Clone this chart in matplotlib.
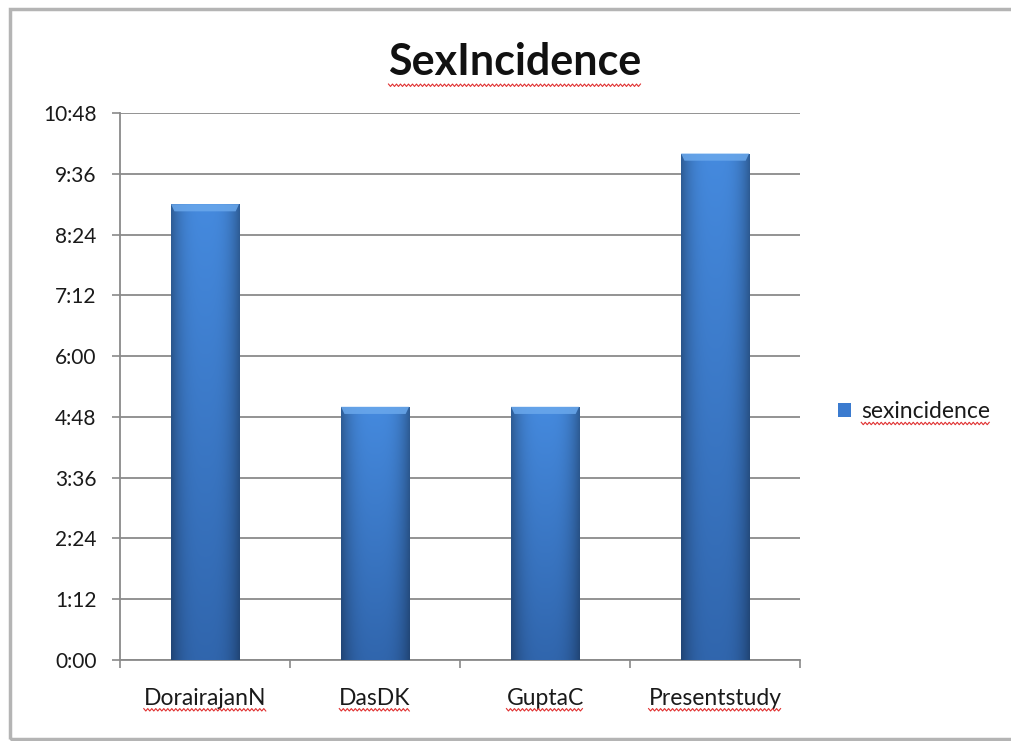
import numpy as np
import matplotlib
matplotlib.use("Agg")
import matplotlib.pyplot as plt
from matplotlib.patches import Rectangle, Polygon
from matplotlib.lines import Line2D
from matplotlib.ticker import FixedLocator, FuncFormatter

# study names and values (minutes, shown as h:mm on the axis)
studies = ["DorairajanN", "DasDK", "GuptaC", "Presentstudy"]
sexincidence = [540, 300, 300, 600]
y_ticks = list(range(0, 649, 72))

plt.rcParams['font.family'] = ['Lato', 'DejaVu Sans']

fig = plt.figure(figsize=(10.12, 7.41), dpi=100)
ax = fig.add_axes([0.1186, 0.1093, 0.672, 0.7382])

x = np.arange(len(studies))
bars = ax.bar(x, sexincidence, width=0.4, color="#3b7bcf", zorder=3,
              label="sexincidence", linewidth=0)

# cylinder-ish shading: dark sides, lighter centre, darker toward the bottom
cols = np.linspace(-1, 1, 60)
side = 1 - 0.32 * np.abs(cols) ** 3
rows = np.linspace(0, 1, 100)[:, None]          # 0 = top, 1 = bottom
top_c = np.array([0.27, 0.54, 0.87])
bot_c = np.array([0.19, 0.40, 0.68])
base = top_c * (1 - rows[..., None]) + bot_c * rows[..., None]
grad = np.clip(base * side[None, :, None], 0, 1)

for b in bars:
    x0, w, h = b.get_x(), b.get_width(), b.get_height()
    im = ax.imshow(grad, extent=[x0, x0 + w, 0, h], aspect="auto",
                   zorder=4, interpolation="bilinear")
    im.set_clip_path(b)
    # bevelled top edge
    bev = 8.5
    cut = w * 0.05
    ax.add_patch(Polygon([[x0, h], [x0 + w, h], [x0 + w - cut, h - bev],
                          [x0 + cut, h - bev]], closed=True,
                         facecolor="#6aa8ec", edgecolor="none", zorder=5,
                         alpha=0.85))

ax.set_xlim(-0.5, len(studies) - 0.5)
ax.set_ylim(0, 648)
ax.yaxis.set_major_locator(FixedLocator(y_ticks))
ax.yaxis.set_major_formatter(FuncFormatter(lambda v, p: f"{int(v) // 60}:{int(v) % 60:02d}"))
ax.grid(axis="y", color="#8a8a8a", linewidth=1.3, zorder=0)
ax.set_axisbelow(True)

ax.set_xticks(x)
ax.set_xticklabels(studies)
ax.set_xticks(np.arange(-0.5, len(studies)), minor=True)
ax.tick_params(axis="x", which="major", length=0, pad=20, labelsize=16.5,
               labelcolor="#1a1a1a")
ax.tick_params(axis="x", which="minor", length=6, width=1.2, color="#8a8a8a",
               direction="out")
ax.tick_params(axis="y", length=6, width=1.2, color="#8a8a8a", pad=11,
               labelsize=15, labelcolor="#1a1a1a")

for s in ["top", "right"]:
    ax.spines[s].set_visible(False)
for s in ["left", "bottom"]:
    ax.spines[s].set_color("#8a8a8a")
    ax.spines[s].set_linewidth(1.3)

title = fig.text(0.509, 0.916, "SexIncidence", ha="center", va="center",
                 fontsize=31, fontweight="bold", color="#111111")

leg = ax.legend(loc="center left", bbox_to_anchor=(0.808, 0.444),
                bbox_transform=fig.transFigure, frameon=False, fontsize=16.5,
                handlelength=0.55, handleheight=0.55, handletextpad=0.45)
for t in leg.get_texts():
    t.set_color("#1a1a1a")

# outer chart frame
fig.add_artist(Rectangle((0.0099, 0.003), 1.2, 0.985, transform=fig.transFigure,
                         fill=False, edgecolor="#b4b4b4", linewidth=2.5))

# red spell-check squiggles under the labels
fig.canvas.draw()
renderer = fig.canvas.get_renderer()
H = fig.bbox.height
W = fig.bbox.width


def squiggle(txt, drop=2.0):
    bb = txt.get_window_extent(renderer)
    xs = np.arange(bb.x0, bb.x1, 2.0)
    ys = bb.y0 - drop + np.where(np.arange(len(xs)) % 2 == 0, 1.2, -1.2)
    fig.add_artist(Line2D(xs / W, ys / H, transform=fig.transFigure,
                          color="#e03030", linewidth=0.8))


squiggle(title, 3)
for t in ax.get_xticklabels():
    squiggle(t, 1)
for t in leg.get_texts():
    squiggle(t, 1)

fig.savefig("out.png", dpi=100)
